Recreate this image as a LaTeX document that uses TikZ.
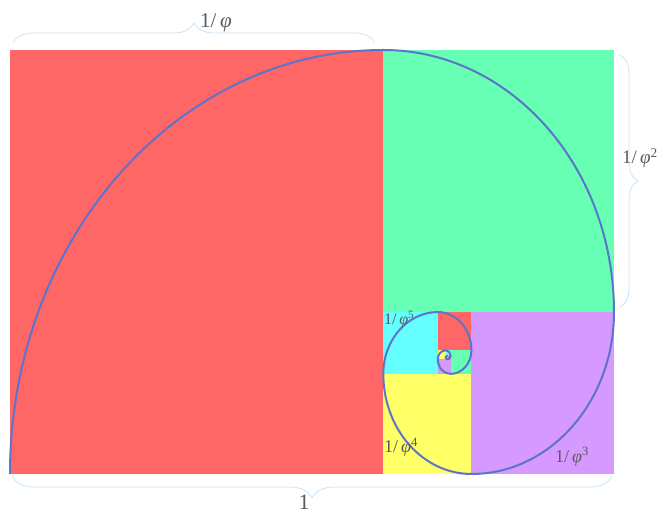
\documentclass[tikz,border=0pt]{standalone}
\usepackage{amsmath,amssymb}
\usepackage{fontspec}
\setmainfont{Liberation Serif}
\usepackage{tikz}
\usetikzlibrary{decorations.pathreplacing}
\definecolor{SQred}{HTML}{FF6666}
\definecolor{SQgreen}{HTML}{66FFB3}
\definecolor{SQpurple}{HTML}{D699FF}
\definecolor{SQyellow}{HTML}{FFFF66}
\definecolor{SQcyan}{HTML}{66FFFF}
\definecolor{SPblue}{HTML}{5C74CC}
\definecolor{BRlight}{HTML}{CCE6FA}
\definecolor{TXgray}{HTML}{5A5A5A}
\newcommand{\invphi}[1]{1/\,\textit{φ}\textsuperscript{#1}}

\begin{document}
\begin{tikzpicture}[x=1pt,y=1pt,
  brc/.style={decorate,decoration={brace,amplitude=#1},BRlight,line width=0.9pt},
  lbl/.style={inner sep=0pt,TXgray,font=\fontsize{18}{21}\selectfont}]
  \useasboundingbox (-10,-39) rectangle (650,474);
  % golden squares, each one cut off the rest
  \foreach \xa/\ya/\xb/\yb/\c in {0/0/373.29/424/SQred, 373.29/161.95/604/424/SQgreen,
    461.41/0/604/161.95/SQpurple, 373.29/0/461.41/100.09/SQyellow,
    373.29/100.09/427.75/161.95/SQcyan, 427.75/123.72/461.41/161.95/SQred,
    440.61/100.09/461.41/123.72/SQgreen, 427.75/100.09/440.61/114.69/SQpurple,
    427.75/114.69/435.70/123.72/SQyellow, 435.70/118.14/440.61/123.72/SQcyan,
    437.57/114.69/440.61/118.14/SQred, 435.70/114.69/437.57/116.82/SQgreen}
    \fill[\c] (\xa,\ya) rectangle (\xb,\yb);
  % spiral
  \draw[SPblue,line width=2pt] (0,0) \foreach \k in {0,...,13}{
    arc[start angle={180-90*\k},end angle={90-90*\k},x radius={604*0.618034^(\k+1)},y radius={424*0.618034^\k}]};
  \draw[brc=20pt] (3,431) -- (365,431);
  \draw[brc=18pt] (610,419) -- (610,167);
  \draw[brc=22pt] (602,-2) -- (2,-2);
  \node[lbl,anchor=base west,font=\fontsize{21}{24}\selectfont] (inv1) at (190,446) {\invphi{}};
  \node[lbl,anchor=base west,font=\fontsize{19}{22}\selectfont] (inv2) at (612,310) {\invphi{2}};
  \node[lbl,anchor=base,font=\fontsize{22}{25}\selectfont] (one) at (294,-35) {1};
  \node[lbl,anchor=base west] (inv3) at (545,12) {\invphi{3}};
  \node[lbl,anchor=base west] (inv4) at (374,21) {\invphi{4}};
  \node[lbl,anchor=base west,font=\fontsize{16}{19}\selectfont] (inv5) at (374,149) {\invphi{5}};
\end{tikzpicture}
\end{document}
